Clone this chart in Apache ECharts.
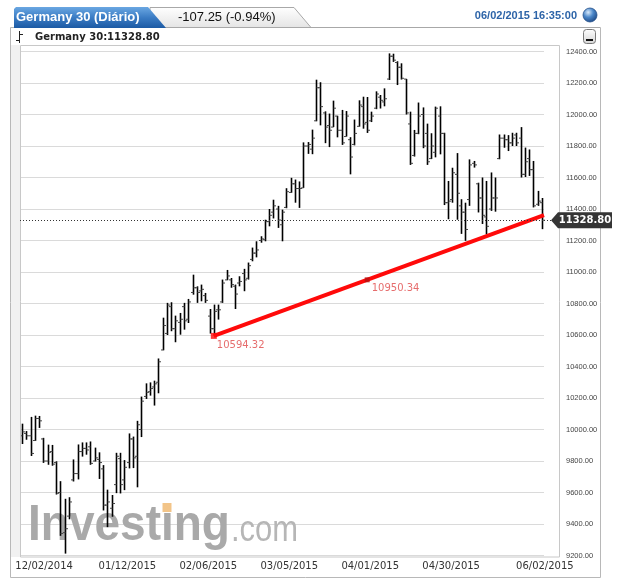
<!DOCTYPE html>
<html><head><meta charset="utf-8">
<script src="https://cdn.jsdelivr.net/npm/echarts/dist/echarts.min.js"></script>
<style>html,body{margin:0;padding:0;background:#fff}#c{width:640px;height:581px}</style>
</head><body><div id="c"></div>
<script>
const dates = [
'12/02/2014','12/03/2014','12/04/2014','12/05/2014','12/08/2014','12/09/2014','12/10/2014','12/11/2014','12/12/2014','12/15/2014','12/16/2014','12/17/2014','12/18/2014','12/19/2014','12/22/2014','12/23/2014','12/29/2014','12/30/2014',
'01/02/2015','01/05/2015','01/06/2015','01/07/2015','01/08/2015','01/09/2015','01/12/2015','01/13/2015','01/14/2015','01/15/2015','01/16/2015','01/19/2015','01/20/2015','01/21/2015','01/22/2015','01/23/2015','01/26/2015','01/27/2015','01/28/2015','01/29/2015','01/30/2015',
'02/02/2015','02/03/2015','02/04/2015','02/05/2015','02/06/2015','02/09/2015','02/10/2015','02/11/2015','02/12/2015','02/13/2015','02/16/2015','02/17/2015','02/18/2015','02/19/2015','02/20/2015','02/23/2015','02/24/2015','02/25/2015','02/26/2015','02/27/2015',
'03/02/2015','03/03/2015','03/04/2015','03/05/2015','03/06/2015','03/09/2015','03/10/2015','03/11/2015','03/12/2015','03/13/2015','03/16/2015','03/17/2015','03/18/2015','03/19/2015','03/20/2015','03/23/2015','03/24/2015','03/25/2015','03/26/2015','03/27/2015','03/30/2015','03/31/2015',
'04/01/2015','04/02/2015','04/07/2015','04/08/2015','04/09/2015','04/10/2015','04/13/2015','04/14/2015','04/15/2015','04/16/2015','04/17/2015','04/20/2015','04/21/2015','04/22/2015','04/23/2015','04/24/2015','04/27/2015','04/28/2015','04/29/2015','04/30/2015',
'05/04/2015','05/05/2015','05/06/2015','05/07/2015','05/08/2015','05/11/2015','05/12/2015','05/13/2015','05/14/2015','05/15/2015','05/18/2015','05/19/2015','05/20/2015','05/21/2015','05/22/2015','05/25/2015','05/26/2015','05/27/2015','05/28/2015','05/29/2015',
'06/01/2015','06/02/2015'];

const opens = [9960,9975,9960,9930,10070,9940,9800,9860,9790,9600,9345,9450,9680,9720,9860,9880,9890,9800,
9810,9750,9520,9500,9650,9815,9680,9790,9940,9830,10000,10210,10240,10270,10300,10505,10610,10780,10640,10680,10780,
10700,10870,10900,10880,10850,10720,10640,10760,10810,10950,10950,10910,10930,10990,10960,11080,11120,11200,11205,11320,
11380,11400,11300,11410,11505,11560,11530,11534,11800,11780,11960,12170,12010,11930,11920,11990,11900,11860,11840,11810,11925,12050,
11950,11960,12040,12110,12080,12225,12370,12330,12300,12225,11940,11740,11880,12000,11880,11720,11760,11990,11880,11440,
11460,11620,11420,11380,11460,11690,11560,11470,11350,11400,11470,11720,11850,11840,11820,11870,11850,11620,11720,11650,
11430,11440];
const highs = [10037,9990,10080,10088,10086,9947,9904,9902,9798,9672,9560,9570,9810,9905,9918,9918,9924,9885,
9855,9774,9618,9584,9852,9852,9806,9975,9955,10055,10209,10293,10299,10310,10451,10710,10804,10808,10723,10740,10804,
10829,10983,10909,10920,10867,10765,10793,10793,10952,11013,10962,10920,10973,11020,11060,11155,11195,11227,11332,11400,
11459,11420,11396,11532,11598,11587,11575,11823,11825,11904,12221,12205,12020,12006,12088,11992,12029,12022,11856,11968,12090,12113,
12111,12018,12147,12124,12166,12388,12386,12338,12325,12226,12018,11902,12076,12045,11942,11881,12050,12052,11884,11578,
11662,11755,11462,11440,11715,11705,11567,11600,11578,11632,11600,11873,11873,11869,11884,11884,11920,11790,11778,11705,
11515,11470];
const lows = [9908,9935,9832,9928,10010,9788,9776,9770,9587,9325,9212,9430,9670,9683,9828,9840,9776,9797,
9686,9486,9380,9446,9596,9594,9615,9753,9755,9633,9952,10194,10215,10152,10230,10503,10600,10624,10554,10602,10634,
10676,10856,10804,10814,10804,10609,10594.32,10698,10804,10948,10900,10765,10909,10878,10952,11068,11093,11186,11195,11290,
11340,11280,11195,11405,11503,11440,11407,11534,11750,11748,11957,11931,11818,11793,11920,11855,11807,11860,11620,11804,11923,11910,
11883,11952,12034,12038,12052,12219,12334,12187,12222,12000,11680,11733,11875,11786,11680,11717,11728,11747,11425,11335,
11440,11332,11242,11198,11420,11663,11378,11305,11240,11388,11383,11716,11789,11768,11800,11800,11600,11603,11610,11410,
11420,11272];
const closes = [9985,9960,9848,10070,10055,9800,9855,9780,9595,9340,9370,9540,9720,9860,9880,9870,9785,9820,
9790,9520,9540,9530,9830,9650,9760,9940,9820,10030,10180,10236,10260,10290,10430,10660,10790,10640,10690,10700,10690,
10810,10900,10870,10890,10820,10640,10750,10760,10930,10975,10920,10860,10940,10950,11040,11120,11140,11210,11320,11360,
11420,11330,11380,11510,11560,11530,11530,11800,11810,11850,12170,12050,11920,11900,12040,11900,11820,11990,11730,11880,12060,11940,
11900,11990,12130,12090,12100,12370,12345,12300,12230,12010,11690,11880,11990,11800,11700,11800,12040,11880,11440,11450,
11630,11500,11380,11270,11680,11680,11470,11360,11290,11470,11470,11850,11840,11820,11850,11820,11620,11700,11650,11420,
11450,11328.80];

const labelIdx = [0, 24, 43, 62, 81, 100, 122];
const trendStart = [45, 10594.32];
const trendEnd = [117, 11306.36];
const trendMidLabel = 10950.34;
const lastClose = 11328.80;
const symbolName = 'Germany 30';
const tabTitle = 'Germany 30 (Diário)';
const changeText = '-107.25 (-0.94%)';
const stampText = '06/02/2015 16:35:00';

const chart = echarts.init(document.getElementById('c'));
const ohlc = dates.map((d, i) => [i, opens[i], highs[i], lows[i], closes[i]]);

const slope = (trendEnd[1] - trendStart[1]) / (trendEnd[0] - trendStart[0]);
const xMax = dates.length - 0.5;
const trendRight = [xMax, trendEnd[1] + slope * (xMax - trendEnd[0])];
const trendMid = [(trendStart[0] + trendEnd[0]) / 2, trendMidLabel];

const baseGraphics = [
  {id:'box', type:'rect', shape:{x:10.5, y:27.5, width:590, height:550}, style:{fill:'none', stroke:'#b8b8b8', lineWidth:1}, z:0},
  {id:'leftband', type:'rect', shape:{x:11, y:45, width:9, height:512}, style:{fill:'#f1f1f1'}, z:0},
  {id:'plotbox', type:'rect', shape:{x:20.5, y:45.5, width:539, height:511.5}, style:{fill:'none', stroke:'#c8c8c8', lineWidth:1}, z:5},
  {id:'graytab', type:'polygon', shape:{points:[[150,27.5],[150,7.5],[294,7.5],[311,27.5]]},
    style:{fill:{type:'linear',x:0,y:0,x2:0,y2:1,colorStops:[{offset:0,color:'#ffffff'},{offset:1,color:'#e4e4e4'}]}, stroke:'#a8a8a8', lineWidth:1}, z:10},
  {id:'topline', type:'line', shape:{x1:311, y1:27.5, x2:600, y2:27.5}, style:{stroke:'#a8a8a8', lineWidth:1}, z:10},
  {id:'bluetab', type:'polygon', shape:{points:[[14,28],[14,9],[16,7],[148,7],[166,28]]},
    style:{fill:{type:'linear',x:0,y:0,x2:0,y2:1,colorStops:[{offset:0,color:'#6aa7e2'},{offset:0.5,color:'#3b7cc4'},{offset:1,color:'#1c5aa4'}]}}, z:11},
  {id:'tabtext', type:'text', x:16, y:17, style:{text:tabTitle, fill:'#ffffff', font:'bold 13px "Liberation Sans", Arial', verticalAlign:'middle'}, z:12},
  {id:'chg', type:'text', x:178, y:17, style:{text:changeText, fill:'#111', font:'13px "Liberation Sans", Arial', verticalAlign:'middle'}, z:12},
  {id:'stamp', type:'text', x:577, y:16, style:{text:stampText, fill:'#2d64a8', font:'bold 11px "Liberation Sans", Arial', align:'right', verticalAlign:'middle'}, z:12},
  {id:'sphere', type:'circle', shape:{cx:590, cy:15, r:7},
    style:{fill:{type:'radial',x:0.38,y:0.32,r:0.75,colorStops:[{offset:0,color:'#d8e9fa'},{offset:0.45,color:'#4b87c9'},{offset:1,color:'#16407c'}]}, stroke:'#24508a', lineWidth:0.8}, z:12},
  {id:'minbtn', type:'rect', shape:{x:583.5, y:29.5, width:12, height:14, r:3},
    style:{fill:{type:'linear',x:0,y:0,x2:0,y2:1,colorStops:[{offset:0,color:'#ffffff'},{offset:1,color:'#d6d6d6'}]}, stroke:'#7a7a7a', lineWidth:1}, z:12},
  {id:'minbar', type:'rect', shape:{x:586, y:39, width:7, height:2}, style:{fill:'#111'}, z:13},
  {id:'ic1', type:'line', shape:{x1:19.5, y1:31, x2:19.5, y2:43}, style:{stroke:'#222', lineWidth:1}, z:12},
  {id:'ic2', type:'line', shape:{x1:16, y1:40.5, x2:19.5, y2:40.5}, style:{stroke:'#222', lineWidth:1}, z:12},
  {id:'ic3', type:'line', shape:{x1:19.5, y1:34.5, x2:23, y2:34.5}, style:{stroke:'#222', lineWidth:1}, z:12},
  {id:'legend', type:'text', x:35, y:37, style:{text:symbolName + ':' + lastClose.toFixed(2), fill:'#222', font:'bold 10px "DejaVu Sans", Verdana', verticalAlign:'middle'}, z:12},
  {id:'wm1', type:'text', x:28, y:526, scaleX:0.92, originX:0, originY:0,
    style:{text:'Investing', fill:'#a9a9a9', font:'bold 50px "Liberation Sans", Arial', verticalAlign:'middle'}, z:1},
  {id:'wm2', type:'text', x:231, y:531, scaleX:0.86, originX:0, originY:0,
    style:{text:'.com', fill:'#b6b6b6', font:'36px "Liberation Sans", Arial', verticalAlign:'middle'}, z:1},
  {id:'wmdot', type:'rect', shape:{x:162.5, y:503, width:9, height:9}, style:{fill:'#f2c488'}, z:1}
];

const option = {
  animation: false,
  backgroundColor: '#ffffff',
  grid: {left: 20, right: 96, top: 51.5, bottom: 25.5},
  xAxis: [
    {type:'category', data: dates, boundaryGap: true,
     axisLine:{show:false}, axisTick:{show:false}, splitLine:{show:false},
     axisLabel:{
       interval: (idx) => labelIdx.indexOf(idx) >= 0,
       margin: 6, hideOverlap: false,
       formatter: (v, idx) => idx === 0 ? '{f|' + v + '}' : '{n|' + v + '}',
       rich: {
         f:{fontFamily:'DejaVu Sans', fontSize:10, color:'#333', padding:[0,0,0,44]},
         n:{fontFamily:'DejaVu Sans', fontSize:10, color:'#333', padding:[0,0,0,6]}
       }
     }},
    {type:'value', min:-0.5, max:xMax, show:false}
  ],
  yAxis: {type:'value', position:'right', min:9200, max:12400, interval:200,
    axisLine:{show:false}, axisTick:{show:false},
    splitLine:{lineStyle:{color:'#dadada', width:1}},
    axisLabel:{margin:22, fontFamily:'Liberation Sans', fontSize:7.5, color:'#444', formatter: v => v.toFixed(2)}},
  series: [
    {type:'custom', name:'ohlc', xAxisIndex:0, yAxisIndex:0, data: ohlc, encode:{x:0, y:[1,2,3,4]}, z:3,
     renderItem: function (params, api) {
       const i = api.value(0);
       const pO = api.coord([i, api.value(1)]);
       const pH = api.coord([i, api.value(2)]);
       const pL = api.coord([i, api.value(3)]);
       const pC = api.coord([i, api.value(4)]);
       const x = Math.round(pO[0]) + 0.5;
       return {type:'group', children:[
         {type:'line', shape:{x1:x, y1:pH[1], x2:x, y2:pL[1]}, style:{stroke:'#000', lineWidth:1.6}},
         {type:'line', shape:{x1:x-2.5, y1:pO[1], x2:x, y2:pO[1]}, style:{stroke:'#444', lineWidth:1}},
         {type:'line', shape:{x1:x, y1:pC[1], x2:x+2.5, y2:pC[1]}, style:{stroke:'#444', lineWidth:1}}
       ]};
     }},
    {type:'line', name:'trend', xAxisIndex:1, yAxisIndex:0, data:[trendStart, trendRight], symbol:'none', z:4,
     lineStyle:{color:'#ff0a0a', width:4}, silent:true,
     markLine:{silent:true, symbol:'none', animation:false,
       lineStyle:{color:'#333', type:[1,2], width:1}, label:{show:false},
       data:[{yAxis:lastClose}]}},
    {type:'scatter', name:'trendPts', xAxisIndex:1, yAxisIndex:0, z:5, silent:true,
     data:[
       {value:trendStart, symbol:'rect', symbolSize:6, itemStyle:{color:'#ff0a0a'},
        label:{show:true, position:'right', distance:0, offset:[0,10], formatter: () => trendStart[1].toFixed(2)}},
       {value:trendMid, symbol:'rect', symbolSize:5, itemStyle:{color:'#b81010'},
        label:{show:true, position:'right', distance:2, offset:[0,9], formatter: () => trendMidLabel.toFixed(2)}}
     ],
     label:{fontFamily:'DejaVu Sans', fontSize:10, color:'#e04848'}}
  ],
  graphic: {elements: baseGraphics}
};
chart.setOption(option);

const ty = chart.convertToPixel({yAxisIndex:0}, lastClose);
chart.setOption({graphic: {elements: [
  {id:'dotext', type:'line', shape:{x1:544, y1:Math.round(ty)+0.5, x2:552, y2:Math.round(ty)+0.5}, style:{stroke:'#333', lineWidth:1, lineDash:[1,2]}, z:19},
  {id:'tag', type:'polygon', shape:{points:[[551,ty],[558,ty-8],[612,ty-8],[612,ty+8],[558,ty+8]]}, style:{fill:'#353535'}, z:20},
  {id:'tagtext', type:'text', x:585, y:ty, style:{text:lastClose.toFixed(2), fill:'#ffffff', font:'bold 10px "DejaVu Sans", Verdana', align:'center', verticalAlign:'middle'}, z:21}
]}});
</script>
</body></html>
